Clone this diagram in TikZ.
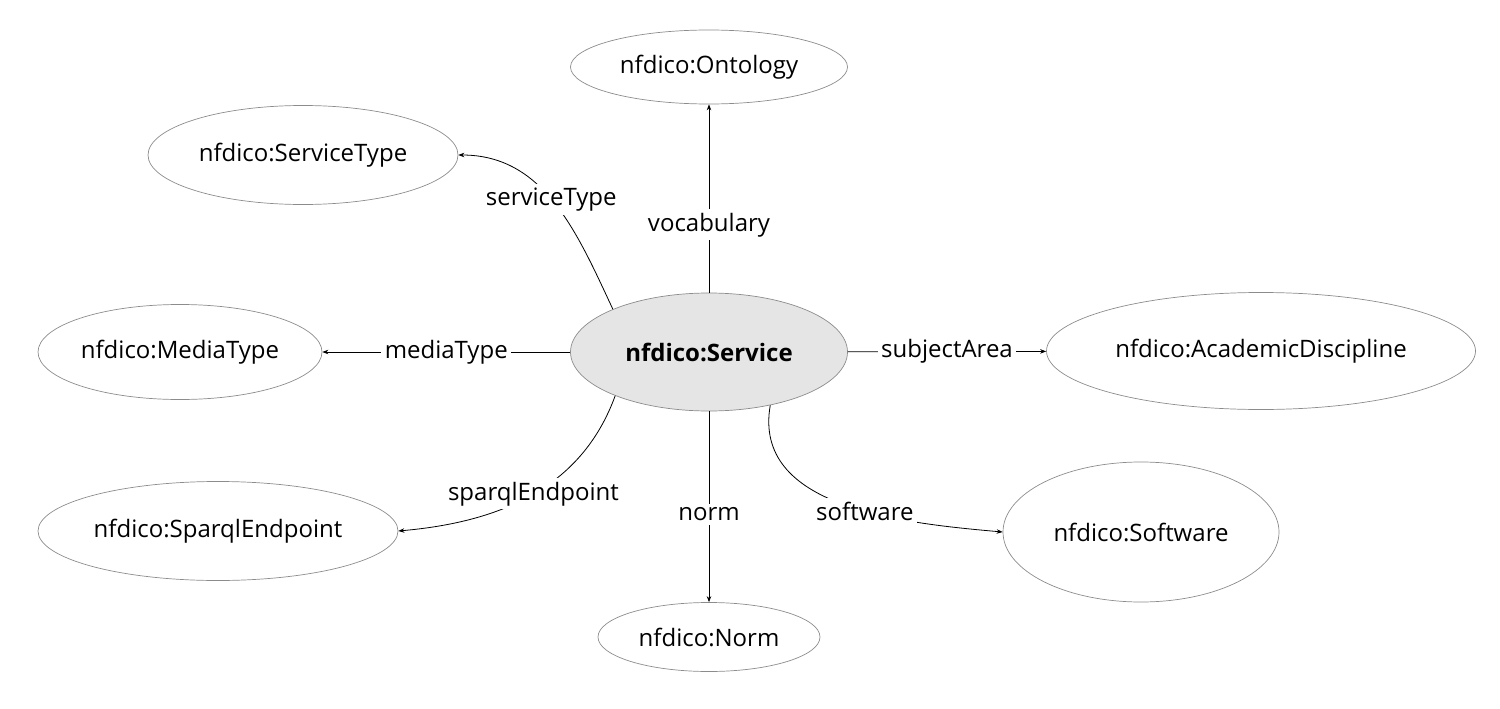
\documentclass[tikz,border=0pt]{standalone}
\usepackage{fontspec}
\setmainfont{Open Sans}
\usetikzlibrary{arrows.meta,shapes.geometric}
\begin{document}
\begin{tikzpicture}[x=1pt,y=-1pt,
  every node/.style={font=\fontsize{24}{28}\selectfont},
  cls/.style={ellipse,draw=black!45,line width=0.7pt,inner sep=0pt},
  rel/.style={draw=black,line width=0.8pt,-{Stealth[length=6pt,width=4.5pt]}},
  lbl/.style={fill=white,inner sep=3.5pt}]
\useasboundingbox (0,0) rectangle (1500,709);
\node[cls,fill=black!10,minimum width=277,minimum height=118] (service) at (709,352) {\textbf{nfdico:Service}};
\node[cls,minimum width=277,minimum height=74] (ontology) at (709,67) {nfdico:Ontology};
\node[cls,minimum width=310,minimum height=99] (stype) at (303,155) {nfdico:ServiceType};
\node[cls,minimum width=284,minimum height=95] (mtype) at (180,352) {nfdico:MediaType};
\node[cls,minimum width=429,minimum height=117] (acad) at (1261,351) {nfdico:AcademicDiscipline};
\node[cls,minimum width=360,minimum height=99] (sparql) at (218,531) {nfdico:SparqlEndpoint};
\node[cls,minimum width=222,minimum height=69] (norm) at (709,637) {nfdico:Norm};
\node[cls,minimum width=276,minimum height=140] (soft) at (1141,532) {nfdico:Software};

\draw[rel] (service) -- node[lbl,pos=0.36] {vocabulary} (ontology);
\draw[rel] (service) -- node[lbl] {mediaType} (mtype);
\draw[rel] (service) -- node[lbl] {subjectArea} (acad);
\draw[rel] (service) -- node[lbl,pos=0.54] {norm} (norm);
\draw[rel] (service.156) to[out=115,in=0] node[lbl,pos=0.52] {serviceType} (stype.east);
\draw[rel] (service.205) to[out=-110,in=5] node[lbl,pos=0.49] {sparqlEndpoint} (sparql.east);
\draw[rel] (service.-41) to[out=-100,in=175] node[lbl,pos=0.58] {software} (soft.west);
\end{tikzpicture}
\end{document}
